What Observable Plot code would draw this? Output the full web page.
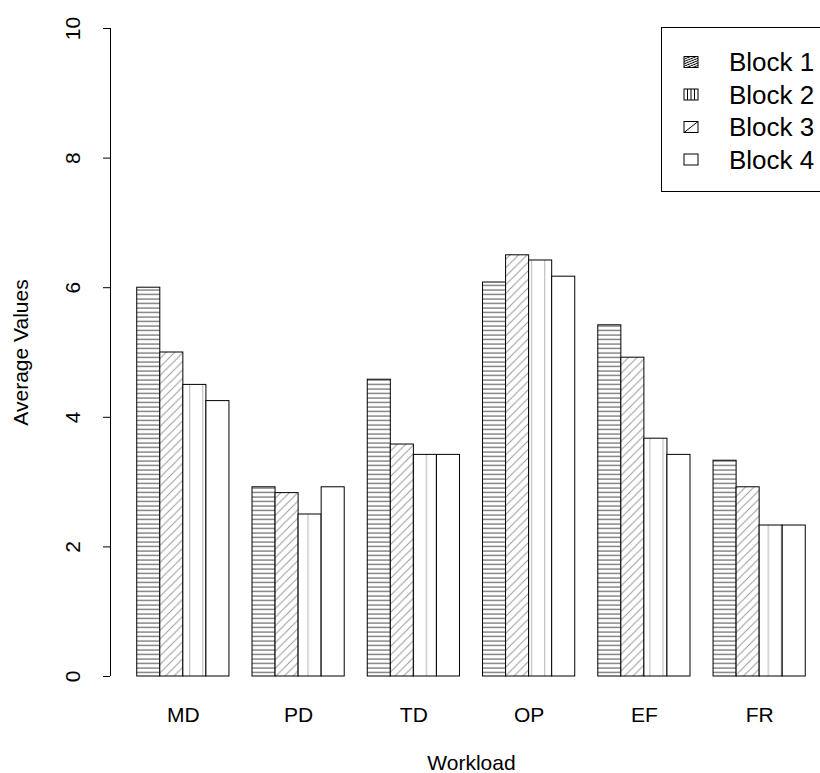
<!DOCTYPE html>
<html>
<head>
<meta charset="utf-8">
<script src="https://cdn.jsdelivr.net/npm/d3@7"></script>
<script src="https://cdn.jsdelivr.net/npm/@observablehq/plot@0.6"></script>
<style>
  html, body { margin: 0; padding: 0; background: white; }
  #wrap { position: relative; width: 820px; height: 773px; overflow: hidden; }
  #legend { position: absolute; left: 661px; top: 27px; }
</style>
</head>
<body>
<div id="wrap"></div>
<script>
// ---- data ----
const workloads = ["MD", "PD", "TD", "OP", "EF", "FR"];
const blocks = ["Block 1", "Block 2", "Block 3", "Block 4"];
const block1 = [6.00, 2.92, 4.58, 6.08, 5.42, 3.33];
const block2 = [5.00, 2.83, 3.58, 6.50, 4.92, 2.92];
const block3 = [4.50, 2.50, 3.42, 6.42, 3.67, 2.33];
const block4 = [4.25, 2.92, 3.42, 6.17, 3.42, 2.33];
const yTicks = [0, 2, 4, 6, 8, 10];
const xLabel = "Workload";
const yLabel = "Average Values";

// ---- table (R barplot coordinates: bar width 1, space 1 between groups) ----
const series = [block1, block2, block3, block4];
const groupSize = blocks.length + 1;
const bars = workloads.flatMap((w, g) =>
  blocks.map((b, k) => ({workload: w, block: b, value: series[k][g], slot: 1 + groupSize * g + k}))
);
const lo = 1, hi = 1 + groupSize * workloads.length - 1;
const pad = 0.04 * (hi - lo);
const xDomain = [lo - pad, hi + pad];
const xMid = (xDomain[0] + xDomain[1]) / 2;
const centers = workloads.map((w, g) => 1 + groupSize * g + blocks.length / 2);

const font = "'Liberation Sans', Arial, Helvetica, sans-serif";

const chart = Plot.plot({
  width: 820,
  height: 773,
  marginLeft: 110,
  marginRight: 0,
  marginTop: 28,
  marginBottom: 97,
  x: {domain: xDomain, range: [110, 832], axis: null},
  y: {domain: [yTicks[0], yTicks[yTicks.length - 1]], range: [676, 28], axis: null},
  color: {domain: blocks, range: ["url(#pat-h)", "url(#pat-d)", "url(#pat-v)", "white"]},
  style: {fontFamily: font, color: "black", background: "white"},
  marks: [
    Plot.rect(bars, {x1: "slot", x2: d => d.slot + 1, y1: d => 0, y2: "value", fill: "block", stroke: "black", strokeWidth: 1}),
    Plot.ruleX([xDomain[0]], {y1: yTicks[0], y2: yTicks[yTicks.length - 1], stroke: "black", strokeWidth: 1}),
    Plot.axisY(yTicks, {anchor: "left", tickSize: 7, tickFormat: () => "", label: null, stroke: "black"}),
    Plot.text(yTicks, {y: d => d, text: d => String(d), frameAnchor: "left", dx: -37, rotate: -90, textAnchor: "middle", lineAnchor: "middle", fontSize: 21, fill: "black"}),
    Plot.text(workloads, {x: (d, i) => centers[i], text: d => d, frameAnchor: "bottom", dy: 39, textAnchor: "middle", lineAnchor: "middle", fontSize: 21, fill: "black"}),
    Plot.text([xLabel], {x: () => xMid, text: d => d, frameAnchor: "bottom", dy: 87, textAnchor: "middle", lineAnchor: "middle", fontSize: 21, fill: "black"}),
    Plot.text([yLabel], {text: d => d, frameAnchor: "left", dx: -89, rotate: -90, textAnchor: "middle", lineAnchor: "middle", fontSize: 21, fill: "black"})
  ]
});

// hatch patterns (R density/angle fills)
const defs = d3.select(chart).insert("defs", ":first-child");
const ph = defs.append("pattern").attr("id", "pat-h").attr("patternUnits", "userSpaceOnUse")
  .attr("width", 10).attr("height", 4.5);
ph.append("rect").attr("width", 10).attr("height", 4.5).attr("fill", "white");
ph.append("line").attr("x1", 0).attr("x2", 10).attr("y1", 2).attr("y2", 2).attr("stroke", "#666").attr("stroke-width", 1.2);

const pd = defs.append("pattern").attr("id", "pat-d").attr("patternUnits", "userSpaceOnUse")
  .attr("width", 8.5).attr("height", 8.5);
pd.append("rect").attr("width", 8.5).attr("height", 8.5).attr("fill", "white");
pd.append("path").attr("d", "M-1,9.5 L9.5,-1 M-1,1 L1,-1 M7.5,9.5 L9.5,7.5").attr("stroke", "#999").attr("stroke-width", 1);

const pv = defs.append("pattern").attr("id", "pat-v").attr("patternUnits", "userSpaceOnUse")
  .attr("x", 4.9).attr("width", 13.15).attr("height", 10);
pv.append("rect").attr("width", 13.15).attr("height", 10).attr("fill", "white");
pv.append("line").attr("x1", 0.5).attr("x2", 0.5).attr("y1", 0).attr("y2", 10).attr("stroke", "#c4c4c4").attr("stroke-width", 1.5);

const wrap = document.getElementById("wrap");
wrap.appendChild(chart);

// ---- legend (R legend with pattern keys, top right) ----
const leg = d3.select(wrap).append("svg").attr("id", "legend")
  .attr("width", 200).attr("height", 166);
const ldefs = leg.append("defs");
const lp = ldefs.append("pattern").attr("id", "leg-p1").attr("patternUnits", "userSpaceOnUse")
  .attr("width", 40).attr("height", 2.2).attr("patternTransform", "rotate(-22)");
lp.append("line").attr("x1", 0).attr("x2", 40).attr("y1", 1).attr("y2", 1).attr("stroke", "black").attr("stroke-width", 0.9);
leg.append("rect").attr("x", 0.5).attr("y", 0.5).attr("width", 300).attr("height", 164)
  .attr("fill", "white").attr("stroke", "black").attr("stroke-width", 1);
const rowY = [35, 67.5, 100, 132.5];
const sx = 23, sw = 14, sh = 11;
blocks.forEach((b, i) => {
  const y0 = rowY[i] - sh / 2;
  const g = leg.append("g");
  if (i === 0) g.append("rect").attr("x", sx).attr("y", y0).attr("width", sw).attr("height", sh).attr("fill", "url(#leg-p1)");
  if (i === 1) [1, 2, 3].forEach(j => g.append("line").attr("x1", sx + j * sw / 4).attr("x2", sx + j * sw / 4)
      .attr("y1", y0).attr("y2", y0 + sh).attr("stroke", "black").attr("stroke-width", 1));
  if (i === 2) g.append("line").attr("x1", sx).attr("y1", y0 + sh).attr("x2", sx + sw).attr("y2", y0)
      .attr("stroke", "black").attr("stroke-width", 1);
  g.append("rect").attr("x", sx).attr("y", y0).attr("width", sw).attr("height", sh)
    .attr("fill", "none").attr("stroke", "black").attr("stroke-width", 1);
  leg.append("text").attr("x", 68).attr("y", rowY[i]).attr("dy", "0.35em")
    .attr("font-family", font).attr("font-size", 26).attr("fill", "black").text(b);
});
</script>
</body>
</html>
